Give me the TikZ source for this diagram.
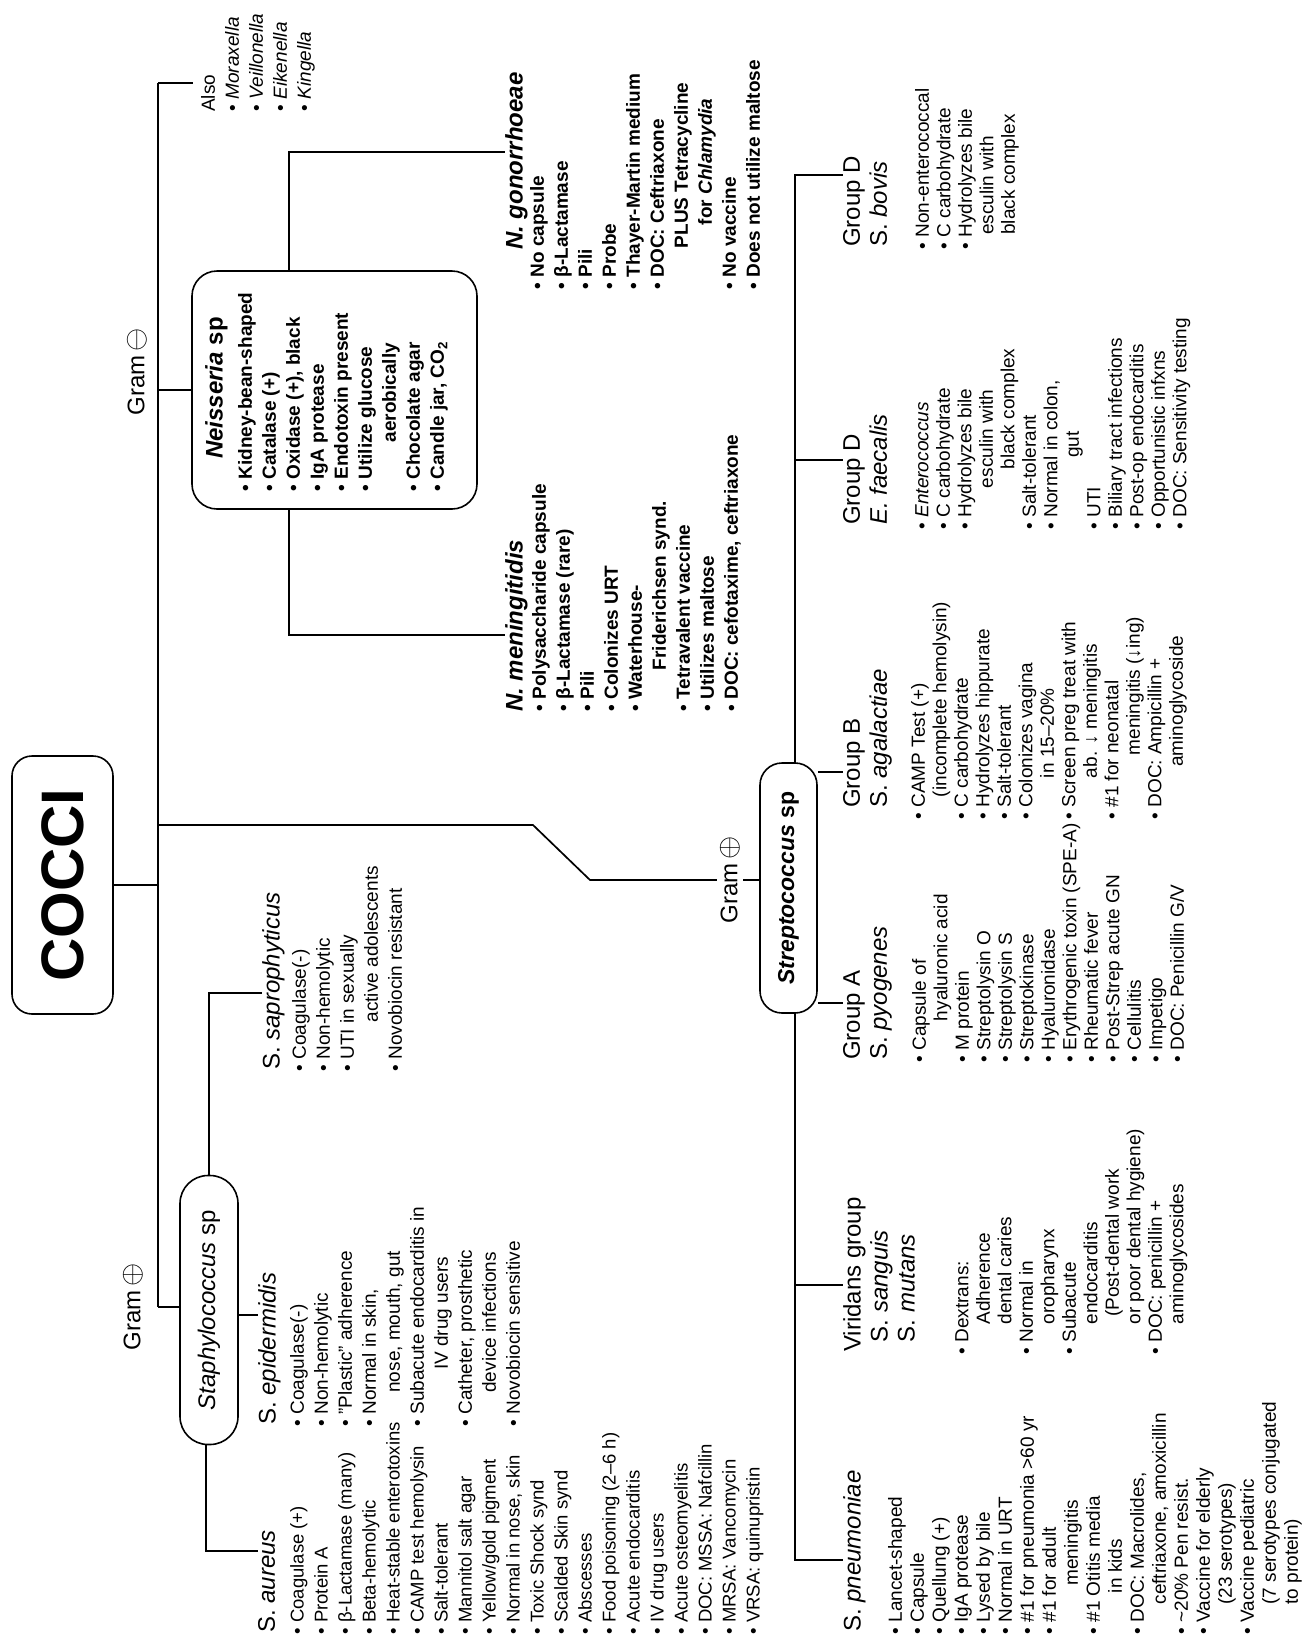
\documentclass[tikz,border=0pt]{standalone}
\usepackage{fontspec}
\setmainfont{Liberation Sans}
\usetikzlibrary{backgrounds}

\newcommand{\itm}{\textbullet\hspace{0.3em}}
\newcommand{\gplus}{\,\scalebox{1.2}{$\oplus$}}
\newcommand{\gminus}{\,\scalebox{1.2}{$\ominus$}}

\begin{document}
\begin{tikzpicture}[
  x=1pt, y=-1pt,
  conn/.style={line width=1.7pt},
  bx/.style={draw, line width=1.6pt, fill=white, rotate=90, inner sep=0pt},
  txt/.style={rotate=90, anchor=north west, inner sep=0pt, align=left},
  lst/.style={txt, font=\fontsize{19}{24}\selectfont},
  lstt/.style={txt, font=\fontsize{19}{21.5}\selectfont},
  ttl/.style={txt, font=\fontsize{24}{27}\selectfont},
  gram/.style={rotate=90, inner sep=3pt, font=\fontsize{24}{26}\selectfont}
]
\useasboundingbox (0,0) rectangle (1307,1642);

% root and the two gram branches
\node[bx, rounded corners=20pt, minimum width=258pt, minimum height=101pt,
      font=\bfseries\fontsize{60}{60}\selectfont] (cocci) at (62.5,885) {COCCI};
\node[gram] (gneg) at (137,372) {Gram\gminus};
\node[gram] (gpos) at (133,1307) {Gram\gplus};
\node[gram, fill=white] (gposS) at (730,880) {Gram\gplus};

% gram negative side
\node[lst] (alsoL) at (201,112) {Also\\ \itm\textit{Moraxella}\\ \itm\textit{Veillonella}\\
  \itm\textit{Eikenella}\\ \itm\textit{Kingella}};

\node[bx, rounded corners=25pt, minimum width=238pt, minimum height=285pt] (neis) at (334.5,390) {};
\node[ttl, anchor=north, font=\bfseries\fontsize{24}{27}\selectfont] (neisT) at (205,388) {\textit{Neisseria} sp};
\node[lst, font=\bfseries\fontsize{19}{24}\selectfont] (neisL) at (238,492) {\itm Kidney-bean-shaped\\
  \itm Catalase (+)\\ \itm Oxidase (+), black\\ \itm IgA protease\\ \itm Endotoxin present\\
  \itm Utilize glucose\\ \hspace*{2.6em}aerobically\\ \itm Chocolate agar\\ \itm Candle jar, CO\textsubscript{2}};

\node[ttl, font=\bfseries\fontsize{24}{27}\selectfont] (gonT) at (505,250) {\textit{N. gonorrhoeae}};
\node[lst, font=\bfseries\fontsize{19}{24}\selectfont] (gonL) at (530,290) {\itm No capsule\\
  \itm β-Lactamase\\ \itm Pili\\ \itm Probe\\ \itm Thayer-Martin medium\\ \itm DOC: Ceftriaxone\\
  \hspace*{2.2em}PLUS Tetracycline\\ \hspace*{3.4em}for \textit{Chlamydia}\\ \itm No vaccine\\
  \itm Does not utilize maltose};

\node[ttl, font=\bfseries\fontsize{24}{27}\selectfont] (menT) at (505,712) {\textit{N. meningitidis}};
\node[lst, font=\bfseries\fontsize{19}{24}\selectfont] (menL) at (532,712) {\itm Polysaccharide capsule\\
  \itm β-Lactamase (rare)\\ \itm Pili\\ \itm Colonizes URT\\ \itm Waterhouse-\\
  \hspace*{2.2em}Friderichsen synd.\\ \itm Tetravalent vaccine\\ \itm Utilizes maltose\\
  \itm DOC: cefotaxime, ceftriaxone};

% staphylococci
\node[bx, rounded corners=28pt, minimum width=269pt, minimum height=58pt,
      font=\fontsize{24}{26}\selectfont] (stap) at (209,1310) {\textit{Staphylococcus} sp};

\node[ttl] (sapT) at (262,1070) {S. \textit{saprophyticus}};
\node[lst] (sapL) at (292,1072) {\itm Coagulase(-)\\ \itm Non-hemolytic\\ \itm UTI in sexually\\
  \hspace*{2.6em}active adolescents\\ \itm Novobiocin resistant};

\node[ttl] (epiT) at (258,1425) {S. \textit{epidermidis}};
\node[lst] (epiL) at (290,1427) {\itm Coagulase(-)\\ \itm Non-hemolytic\\ \itm "Plastic" adherence\\
  \itm Normal in skin,\\ \hspace*{1.8em}nose, mouth, gut\\ \itm Subacute endocarditis in\\
  \hspace*{3em}IV drug users\\ \itm Catheter, prosthetic\\ \hspace*{1.8em}device infections\\
  \itm Novobiocin sensitive};

\node[ttl] (aurT) at (258,1633) {S. \textit{aureus}};
\node[lst, font=\fontsize{18.5}{24}\selectfont] (aurL) at (290,1635) {\itm Coagulase (+)\\ \itm Protein A\\
  \itm β-Lactamase (many)\\ \itm Beta-hemolytic\\ \itm Heat-stable enterotoxins\\ \itm CAMP test hemolysin\\
  \itm Salt-tolerant\\ \itm Mannitol salt agar\\ \itm Yellow/gold pigment\\ \itm Normal in nose, skin\\
  \itm Toxic Shock synd\\ \itm Scalded Skin synd\\ \itm Abscesses\\ \itm Food poisoning (2--6 h)\\
  \itm Acute endocarditis\\ \itm IV drug users\\ \itm Acute osteomyelitis\\ \itm DOC: MSSA: Nafcillin\\
  \itm MRSA: Vancomycin\\ \itm VRSA: quinupristin};

% streptococci
\node[bx, rounded corners=22pt, minimum width=250pt, minimum height=57pt,
      font=\bfseries\fontsize{23}{25}\selectfont] (strep) at (788.5,888) {\textit{Streptococcus} sp};

\node[ttl] (bovT) at (843,247) {Group D\\S. \textit{bovis}};
\node[lstt] (bovL) at (915,250) {\itm Non-enterococcal\\ \itm C carbohydrate\\ \itm Hydrolyzes bile\\
  \hspace*{0.8em}esculin with\\ \hspace*{0.8em}black complex};

\node[ttl] (faeT) at (843,525) {Group D\\\textit{E. faecalis}};
\node[lstt] (faeL) at (915,530) {\itm \textit{Enterococcus}\\ \itm C carbohydrate\\ \itm Hydrolyzes bile\\
  \hspace*{2.2em}esculin with\\ \hspace*{3.2em}black complex\\ \itm Salt-tolerant\\ \itm Normal in colon,\\
  \hspace*{3.8em}gut\\ \itm UTI\\ \itm Biliary tract infections\\ \itm Post-op endocarditis\\
  \itm Opportunistic infxns\\ \itm DOC: Sensitivity testing};

\node[ttl] (grbT) at (843,808) {Group B\\S. \textit{agalactiae}};
\node[lstt] (grbL) at (911,820) {\itm CAMP Test (+)\\ \hspace*{1.2em}(incomplete hemolysin)\\
  \itm C carbohydrate\\ \itm Hydrolyzes hippurate\\ \itm Salt-tolerant\\ \itm Colonizes vagina\\
  \hspace*{2.2em}in 15--20\%\\ \itm Screen preg treat with\\ \hspace*{2.2em}ab. ↓ meningitis\\
  \itm \#1 for neonatal\\ \hspace*{3.4em}meningitis (↓ing)\\ \itm DOC: Ampicillin +\\
  \hspace*{2.8em}aminoglycoside};

\node[ttl] (graT) at (843,1060) {Group A\\S. \textit{pyogenes}};
\node[lstt] (graL) at (912,1063) {\itm Capsule of\\ \hspace*{2.2em}hyaluronic acid\\ \itm M protein\\
  \itm Streptolysin O\\ \itm Streptolysin S\\ \itm Streptokinase\\ \itm Hyaluronidase\\
  \itm Erythrogenic toxin (SPE-A)\\ \itm Rheumatic fever\\ \itm Post-Strep acute GN\\ \itm Cellulitis\\
  \itm Impetigo\\ \itm DOC: Penicillin G/V};

\node[ttl] (virT) at (843,1352) {Viridans group\\\hspace*{0.4em}S. \textit{sanguis}\\\hspace*{0.4em}S. \textit{mutans}};
\node[lstt] (virL) at (955,1355) {\itm Dextrans:\\ \hspace*{1.6em}Adherence\\ \hspace*{1.6em}dental caries\\
  \itm Normal in\\ \hspace*{1.6em}oropharynx\\ \itm Subacute\\ \hspace*{1.6em}endocarditis\\
  \hspace*{2em}(Post-dental work\\ \hspace*{1.6em}or poor dental hygiene)\\ \itm DOC: penicillin +\\
  \hspace*{1.6em}aminoglycosides};

\node[ttl] (pneT) at (843,1632) {S. \textit{pneumoniae}};
\node[txt, font=\fontsize{19}{22}\selectfont] (pneL) at (888,1635) {\itm Lancet-shaped\\ \itm Capsule\\
  \itm Quellung (+)\\ \itm IgA protease\\ \itm Lysed by bile\\ \itm Normal in URT\\
  \itm \#1 for pneumonia >60 yr\\ \itm \#1 for adult\\ \hspace*{2.6em}meningitis\\ \itm \#1 Otitis media\\
  \hspace*{2.2em}in kids\\ \itm DOC: Macrolides,\\ \hspace*{1.6em}ceftriaxone, amoxicillin\\
  \itm \textasciitilde20\% Pen resist.\\ \itm Vaccine for elderly\\ \hspace*{1.6em}(23 serotypes)\\
  \itm Vaccine pediatric\\ \hspace*{1.6em}(7 serotypes conjugated\\ \hspace*{1.6em}to protein)};

% branch points
\coordinate (tkTop) at (158,83);
\coordinate (tkBot) at (158,1307);
\coordinate (alsoC) at (193,83);
\coordinate (gonC) at (289,152);
\coordinate (menC) at (289,635);
\coordinate (stK1) at (533,825);
\coordinate (stK2) at (590,880);
\coordinate (svTop) at (795,175);
\coordinate (svBot) at (795,1560);
\coordinate (faeC) at (795,460);
\coordinate (grbC) at (843,772);
\coordinate (graC) at (843,1003);
\coordinate (virC) at (795,1285);
\coordinate (sapC) at (209,993);
\coordinate (epiC) at (258,1315);
\coordinate (aurC) at (206,1551);

\begin{scope}[on background layer]
  \draw[conn] (tkTop) -- (tkBot);
  \draw[conn] (tkTop) -- (alsoC);
  \draw[conn] (cocci.south) -- (cocci.south -| tkTop);
  \draw[conn] (neis.north -| tkTop) -- (neis.north);
  \draw[conn] (neis.east -| gonC) -- (gonC) -- (gonC -| gonT.north);
  \draw[conn] (neis.west -| menC) -- (menC) -- (menC -| menT.north);
  \draw[conn] (stK1 -| tkTop) -- (stK1) -- (stK2) -- (stK2 -| strep.north);
  \draw[conn] (svTop -| bovT.north) -- (svTop) -- (svBot) -- (svBot -| pneT.north);
  \draw[conn] (faeC) -- (faeC -| faeT.north);
  \draw[conn] (grbC -| strep.south) -- (grbC);
  \draw[conn] (graC -| strep.south) -- (graC);
  \draw[conn] (virC) -- (virC -| virT.north);
  \draw[conn] (tkBot) -- (tkBot -| stap.north);
  \draw[conn] (stap.east -| sapC) -- (sapC) -- (sapC -| sapT.north);
  \draw[conn] (epiC -| stap.south) -- (epiC);
  \draw[conn] (stap.west -| aurC) -- (aurC) -- (aurC -| aurT.north);
\end{scope}
\end{tikzpicture}
\end{document}
